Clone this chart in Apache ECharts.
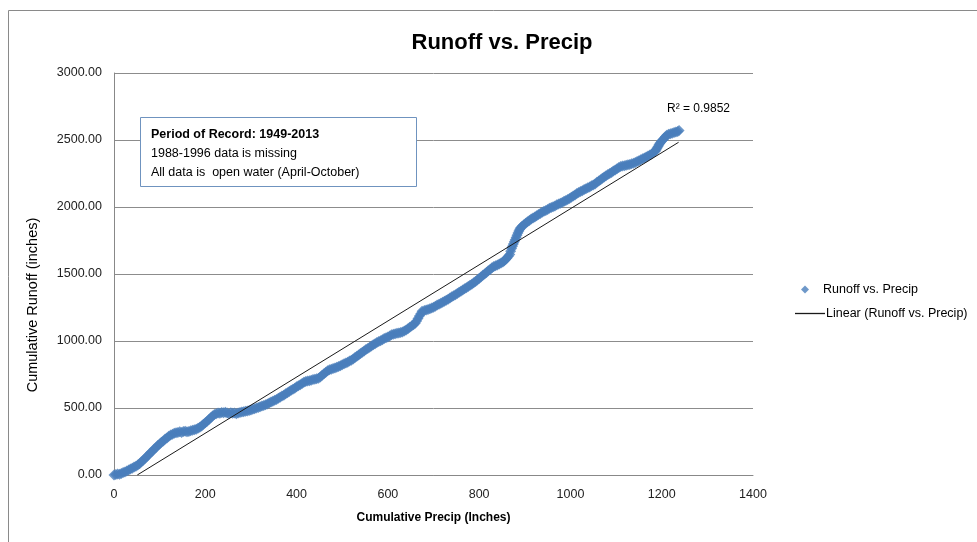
<!DOCTYPE html>
<html>
<head>
<meta charset="utf-8">
<script src="https://cdn.jsdelivr.net/npm/echarts@6/dist/echarts.min.js"></script>
<style>
html,body{margin:0;padding:0;background:#fff;}
#chart{width:977px;height:542px;}
</style>
</head>
<body>
<div id="chart"></div>
<script>
// Cumulative precip (inches)
var precip = [0,4,8,12,16,20,24,28,32,36,40,44,48,52,56,60,64,68,72,76,80,84,88,92,96,100,104,108,112,116,120,124,128,132,136,140,144,148,152,156,160,164,168,172,176,180,184,188,192,196,200,204,208,212,216,220,224,228,232,236,240,244,248,252,256,260,264,268,272,276,280,284,288,292,296,300,304,308,312,316,320,324,328,332,336,340,344,348,352,356,360,364,368,372,376,380,384,388,392,396,400,404,408,412,416,420,424,428,432,436,440,444,448,452,456,460,464,468,472,476,480,484,488,492,496,500,504,508,512,516,520,524,528,532,536,540,544,548,552,556,560,564,568,572,576,580,584,588,592,596,600,604,608,612,616,620,624,628,632,636,640,644,648,652,656,660,663,666,669,672,675,680,684,688,692,696,700,704,708,712,716,720,724,728,732,736,740,744,748,752,756,760,764,768,772,776,780,784,788,792,796,800,804,808,812,816,820,824,828,832,836,840,844,848,852,855,858,861,864,867,869,871,873,875,877,879,881,883,885,887,889,891,894,898,902,906,910,914,918,922,926,930,934,938,942,946,950,954,958,962,966,970,974,978,982,986,990,994,998,1002,1006,1010,1014,1018,1022,1026,1030,1034,1038,1042,1046,1050,1054,1058,1062,1066,1070,1074,1078,1082,1086,1090,1094,1098,1102,1106,1110,1114,1118,1122,1126,1130,1134,1138,1142,1146,1150,1154,1158,1162,1166,1170,1174,1178,1182,1186,1188,1190,1192,1194,1196,1199,1202,1205,1208,1211,1215,1219,1223,1227,1231,1235,1238];
// Cumulative runoff (inches)
var runoff = [0,3,8,6,12,18,22,30,38,45,50,60,66,74,84,98,110,124,138,152,166,178,194,206,220,232,245,254,268,276,290,298,305,312,316,318,322,318,324,326,322,325,330,334,338,342,348,356,366,378,390,402,414,428,440,452,458,462,460,466,464,468,462,458,464,460,462,458,462,466,470,472,476,478,482,486,490,494,500,504,510,514,518,524,530,538,544,550,558,564,572,580,590,596,606,614,624,632,640,648,658,666,674,682,692,698,702,704,708,712,714,718,722,732,744,756,766,778,786,790,794,798,804,810,816,822,830,836,842,850,856,866,876,886,896,906,916,926,936,944,954,962,972,980,988,996,1002,1010,1018,1024,1030,1038,1046,1050,1054,1058,1060,1064,1068,1074,1082,1092,1102,1112,1122,1132,1150,1168,1186,1204,1222,1228,1232,1236,1240,1246,1252,1260,1268,1274,1282,1290,1296,1304,1312,1320,1330,1338,1346,1354,1364,1372,1380,1390,1398,1406,1416,1424,1434,1444,1456,1466,1478,1490,1500,1512,1524,1534,1546,1556,1562,1568,1574,1582,1590,1598,1608,1620,1632,1646,1670,1690,1708,1724,1740,1756,1772,1790,1806,1820,1834,1846,1856,1868,1878,1890,1900,1910,1918,1926,1934,1944,1952,1960,1968,1974,1982,1990,1996,2002,2008,2016,2022,2028,2034,2042,2048,2056,2064,2072,2082,2090,2100,2108,2116,2122,2130,2136,2144,2150,2158,2164,2172,2184,2194,2204,2214,2224,2234,2242,2250,2258,2268,2276,2286,2294,2302,2306,2308,2312,2316,2318,2322,2326,2332,2340,2346,2352,2360,2366,2374,2380,2388,2396,2406,2416,2428,2440,2452,2464,2476,2488,2500,2512,2524,2536,2542,2546,2550,2556,2560,2564,2570];
// Linear trendline end points (x, y)
var trendX = [51, 1237];
var trendY = [0, 2483];
var xTicks = [0, 1400, 200];
var yTicks = [0, 3000, 500];
var r2Text = 'R\u00B2 = 0.9852';
var noteLines = ['Period of Record: 1949-2013', '1988-1996 data is missing', 'All data is  open water (April-October)'];

var scatterData = precip.map(function (p, i) { return [p, runoff[i]]; });
var trendData = trendX.map(function (x, i) { return [x, trendY[i]]; });

var FONT = 'Liberation Sans';
var chart = echarts.init(document.getElementById('chart'), null, {renderer: 'canvas'});
chart.setOption({
  backgroundColor: '#ffffff',
  animation: false,
  title: {
    text: 'Runoff vs. Precip',
    left: 497, top: 27, textAlign: 'center',
    textStyle: {fontFamily: FONT, fontSize: 22, fontWeight: 'bold', color: '#000'}
  },
  grid: {left: 114, right: 224, top: 73, bottom: 67, containLabel: false},
  xAxis: {
    type: 'value', min: xTicks[0], max: xTicks[1], interval: xTicks[2],
    name: 'Cumulative Precip (Inches)', nameLocation: 'middle', nameGap: 37,
    nameTextStyle: {fontFamily: FONT, fontSize: 12, fontWeight: 'bold', color: '#000'},
    axisLine: {show: true, lineStyle: {color: '#888', width: 1}},
    axisTick: {show: false},
    splitLine: {show: false},
    axisLabel: {fontFamily: FONT, fontSize: 12.5, color: '#222', margin: 13,
      formatter: function (v) { return String(v); }}
  },
  yAxis: {
    type: 'value', min: yTicks[0], max: yTicks[1], interval: yTicks[2],
    axisLine: {show: true, lineStyle: {color: '#888', width: 1}},
    axisTick: {show: false},
    splitLine: {show: true, lineStyle: {color: '#8c8c8c', width: 1}},
    axisLabel: {fontFamily: FONT, fontSize: 12.5, color: '#222', margin: 12,
      formatter: function (v) { return v.toFixed(2); }}
  },
  legend: [
    {
      orient: 'vertical', left: 796, top: 278, itemWidth: 8, itemHeight: 8,
      textStyle: {fontFamily: FONT, fontSize: 12.5, color: '#000', padding: [0,0,0,9]},
      data: [{name: 'Runoff vs. Precip', icon: 'diamond'}]
    },
    {
      orient: 'vertical', left: 790, top: 302, itemWidth: 30, itemHeight: 1.3,
      textStyle: {fontFamily: FONT, fontSize: 12.5, color: '#000', padding: [0,0,0,-4]},
      itemStyle: {color: '#1a1a1a'},
      data: [{name: 'Linear (Runoff vs. Precip)', icon: 'rect'}]
    }
  ],
  series: [
    {
      name: 'Runoff vs. Precip', type: 'scatter', symbol: 'diamond', symbolSize: 11,
      itemStyle: {color: '#4A7EBB'}, data: scatterData, z: 2
    },
    {
      name: 'Linear (Runoff vs. Precip)', type: 'line', symbol: 'none', showSymbol: false,
      lineStyle: {color: '#1a1a1a', width: 1}, itemStyle: {color: '#1a1a1a'},
      data: trendData, z: 3
    }
  ],
  graphic: [
    {type: 'rect', shape: {x: 8.5, y: 10.5, width: 1000, height: 600}, style: {fill: 'none', stroke: '#8a8a8a', lineWidth: 1}, silent: true, z: -1},
    {type: 'text', x: 33, y: 305, rotation: Math.PI / 2, z: 11,
      style: {text: 'Cumulative Runoff (inches)', font: '14.5px "Liberation Sans"', fill: '#000', align: 'center', verticalAlign: 'middle'}},
    {type: 'rect', shape: {x: 140.5, y: 117.5, width: 276, height: 69}, style: {fill: '#fff', stroke: '#6F93BF', lineWidth: 1}, z: 10},
    {type: 'text', left: 151, top: 128, z: 11, style: {text: noteLines[0], font: 'bold 12.5px "Liberation Sans"', fill: '#000'}},
    {type: 'text', left: 151, top: 147, z: 11, style: {text: noteLines[1], font: '12.5px "Liberation Sans"', fill: '#000'}},
    {type: 'text', left: 151, top: 166, z: 11, style: {text: noteLines[2], font: '12.5px "Liberation Sans"', fill: '#000'}},
    {type: 'text', left: 667, top: 103, z: 11, style: {text: r2Text, font: '12px "Liberation Sans"', fill: '#000'}}
  ]
});
</script>
</body>
</html>
